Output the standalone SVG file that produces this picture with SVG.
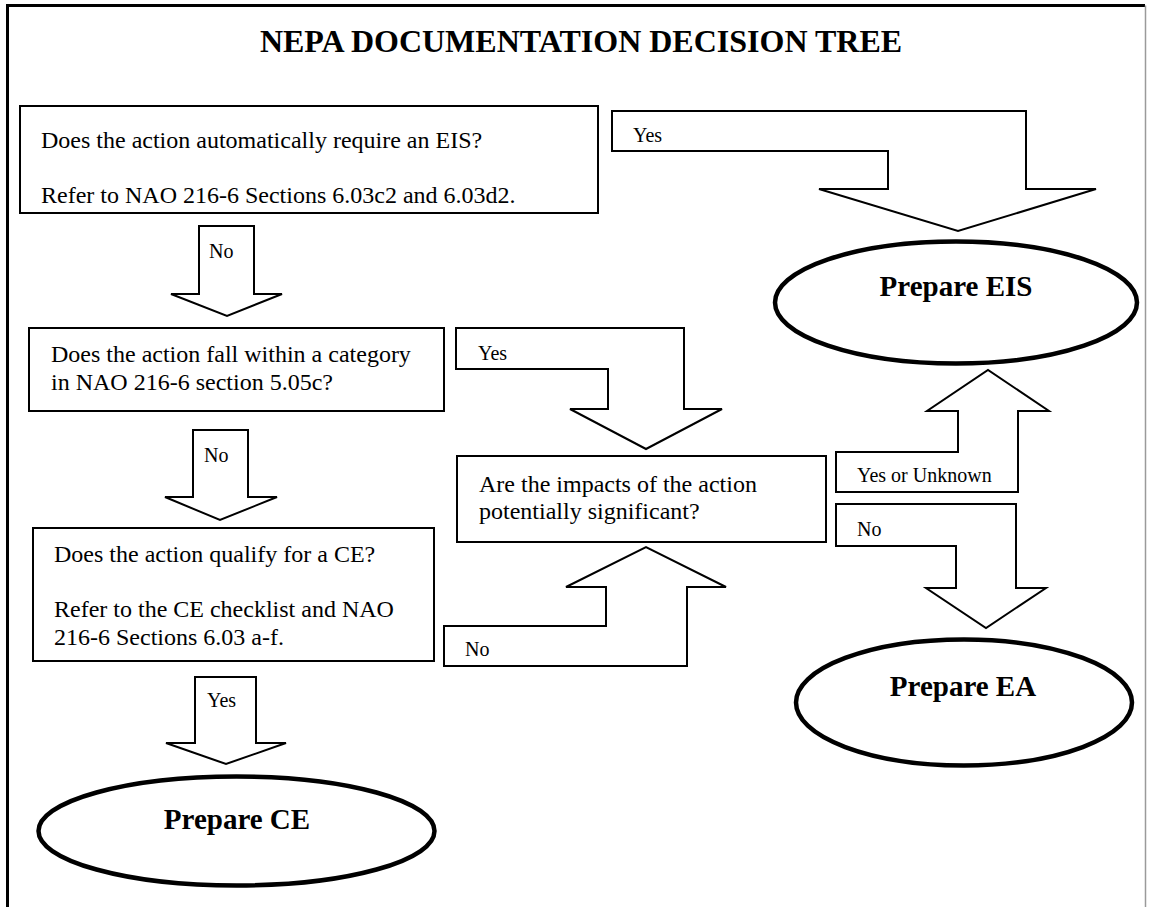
<svg xmlns="http://www.w3.org/2000/svg" width="1149" height="907" viewBox="0 0 1149 907">
  <style>
    .box { fill: #fff; stroke: #000; stroke-width: 2; }
    .arrow { fill: #fff; stroke: #000; stroke-width: 2; stroke-linejoin: miter; }
    .end { fill: #fff; stroke: #000; stroke-width: 4.5; }
    .body { font-family: "Liberation Serif", "Times New Roman", serif; font-size: 24px; fill: #000; }
    .label { font-family: "Liberation Serif", "Times New Roman", serif; font-size: 20px; fill: #000; }
    .endtext { font-family: "Liberation Serif", "Times New Roman", serif; font-size: 29px; font-weight: bold; fill: #000; text-anchor: middle; }
    .title { font-family: "Liberation Serif", "Times New Roman", serif; font-size: 32px; font-weight: bold; fill: #000; text-anchor: middle; }
  </style>

  <rect width="1149" height="907" fill="#fff"/>

  <!-- page frame (open at the bottom) -->
  <g id="frame" fill="none">
    <path d="M7.5 907 V5.5 H1145" stroke="#000" stroke-width="3"/>
    <path d="M1145.5 5.5 V907" stroke="#9a9a9a" stroke-width="1.5"/>
  </g>

  <text class="title" x="581" y="52">NEPA DOCUMENTATION DECISION TREE</text>

  <!-- connectors: block arrows with their labels -->
  <g id="connectors">
    <g id="q1-yes">
      <polygon class="arrow" points="612,111 1026,111 1026,189 1096,189 958,231 819,189 888,189 888,151 612,151"/>
      <text class="label" x="633" y="142">Yes</text>
    </g>
    <g id="q1-no">
      <polygon class="arrow" points="199,226 254,226 254,294 282,294 227,316 171,294 199,294"/>
      <text class="label" x="209" y="258">No</text>
    </g>
    <g id="q2-yes">
      <polygon class="arrow" points="456,328 684,328 684,409 722,409 646,449 570,409 608,409 608,369 456,369"/>
      <text class="label" x="478" y="360">Yes</text>
    </g>
    <g id="q2-no">
      <polygon class="arrow" points="193,430 248,430 248,497 277,497 220,520 165,497 193,497"/>
      <text class="label" x="204" y="462">No</text>
    </g>
    <g id="q3-no">
      <polygon class="arrow" points="444,626 606,626 606,587 566,587 646,547 726,587 687,587 687,666 444,666"/>
      <text class="label" x="465" y="656">No</text>
    </g>
    <g id="q3-yes">
      <polygon class="arrow" points="195,677 256,677 256,743 286,743 226,764 166,743 195,743"/>
      <text class="label" x="207" y="707">Yes</text>
    </g>
    <g id="q4-yes">
      <polygon class="arrow" points="836,452 958,452 958,411 927,411 988,370 1049,411 1018,411 1018,492 836,492"/>
      <text class="label" x="857" y="482">Yes or Unknown</text>
    </g>
    <g id="q4-no">
      <polygon class="arrow" points="836,504 1016,504 1016,588 1046,588 986,628 926,588 956,588 956,546 836,546"/>
      <text class="label" x="857" y="536">No</text>
    </g>
  </g>

  <!-- decision boxes -->
  <g id="q1">
    <rect class="box" x="20" y="106" width="578" height="107"/>
    <text class="body" x="41" y="148">Does the action automatically require an EIS?</text>
    <text class="body" x="41" y="203">Refer to NAO 216-6 Sections 6.03c2 and 6.03d2.</text>
  </g>
  <g id="q2">
    <rect class="box" x="29" y="328" width="415" height="83"/>
    <text class="body" x="51" y="362">Does the action fall within a category</text>
    <text class="body" x="51" y="389.5">in NAO 216-6 section 5.05c?</text>
  </g>
  <g id="q3">
    <rect class="box" x="33" y="528" width="401" height="133"/>
    <text class="body" x="54" y="562">Does the action qualify for a CE?</text>
    <text class="body" x="54" y="617">Refer to the CE checklist and NAO</text>
    <text class="body" x="54" y="645">216-6 Sections 6.03 a-f.</text>
  </g>
  <g id="q4">
    <rect class="box" x="457" y="456" width="369" height="86"/>
    <text class="body" x="479" y="492">Are the impacts of the action</text>
    <text class="body" x="479" y="519">potentially significant?</text>
  </g>

  <!-- outcomes -->
  <g id="eis">
    <ellipse class="end" cx="956" cy="302.5" rx="181" ry="61"/>
    <text class="endtext" x="956" y="296">Prepare EIS</text>
  </g>
  <g id="ea">
    <ellipse class="end" cx="964" cy="702.5" rx="168" ry="63"/>
    <text class="endtext" x="963" y="696">Prepare EA</text>
  </g>
  <g id="ce">
    <ellipse class="end" cx="236.5" cy="831" rx="198" ry="54.5"/>
    <text class="endtext" x="237" y="829">Prepare CE</text>
  </g>
</svg>
